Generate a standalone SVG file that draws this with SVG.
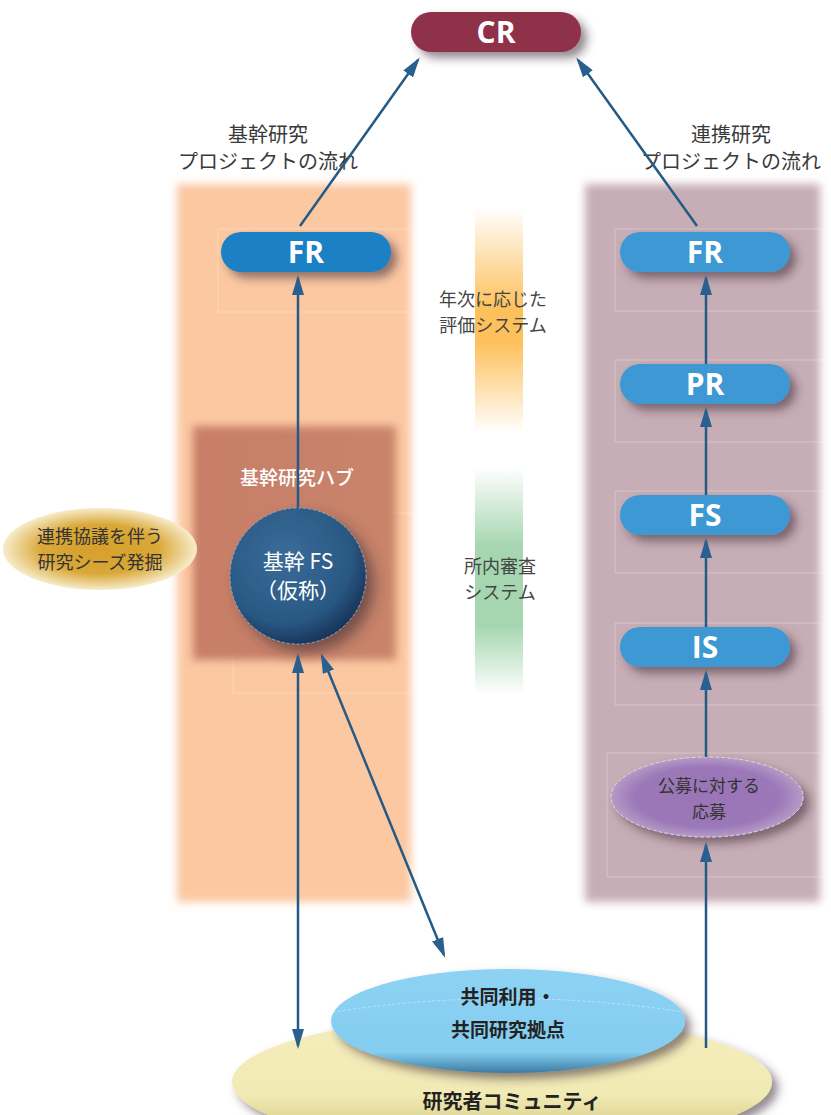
<svg xmlns="http://www.w3.org/2000/svg" width="831" height="1115" viewBox="0 0 831 1115">
<defs>
<style>
.jp{font-family:"Noto Sans CJK JP","Noto Sans",sans-serif}
.hd{font-size:20px;fill:#3a3a3a;text-anchor:middle}
.lab{font-family:"Open Sans","Noto Sans",sans-serif;font-weight:700;font-size:30px;fill:#fff;text-anchor:middle}
.mid{font-size:18px;fill:#444;text-anchor:middle}
.conn{stroke:#245a85;stroke-width:2.5;fill:none}
.frame{fill:none;stroke:#fff;stroke-opacity:0.3;stroke-width:1}
</style>
<filter id="blur" x="-10%" y="-10%" width="120%" height="120%"><feGaussianBlur stdDeviation="4"/></filter>
<filter id="sh" x="-20%" y="-30%" width="150%" height="190%"><feDropShadow dx="6" dy="6" stdDeviation="5" flood-color="#3a2a35" flood-opacity="0.55"/></filter>
<filter id="shc" x="-30%" y="-30%" width="170%" height="170%"><feDropShadow dx="8" dy="8" stdDeviation="7" flood-color="#3a2a35" flood-opacity="0.6"/></filter>
<linearGradient id="gOr" x1="0" y1="0" x2="0" y2="1"><stop offset="0" stop-color="#fdc15c" stop-opacity="0"/><stop offset="0.45" stop-color="#fdc15c"/><stop offset="0.6" stop-color="#fdc15c"/><stop offset="1" stop-color="#fdc15c" stop-opacity="0"/></linearGradient>
<linearGradient id="gGr" x1="0" y1="0" x2="0" y2="1"><stop offset="0" stop-color="#a6d6b0" stop-opacity="0"/><stop offset="0.35" stop-color="#a6d6b0"/><stop offset="0.7" stop-color="#a6d6b0"/><stop offset="1" stop-color="#a6d6b0" stop-opacity="0"/></linearGradient>
<radialGradient id="gBall" cx="0.4" cy="0.35" r="0.7"><stop offset="0" stop-color="#3a6c99"/><stop offset="0.7" stop-color="#2a5884"/><stop offset="1" stop-color="#162f52"/></radialGradient>
<radialGradient id="gOch" cx="0.5" cy="0.5" r="0.5"><stop offset="0" stop-color="#d6a02a"/><stop offset="0.6" stop-color="#d9a838"/><stop offset="1" stop-color="#f7ecca"/></radialGradient>
<radialGradient id="gPur" cx="0.5" cy="0.5" r="0.5"><stop offset="0" stop-color="#9a74b7"/><stop offset="0.75" stop-color="#9c78b8"/><stop offset="1" stop-color="#b59ac6"/></radialGradient>
<linearGradient id="gBlue" x1="0" y1="0" x2="0" y2="1"><stop offset="0" stop-color="#8dd2f3"/><stop offset="0.8" stop-color="#84cdf0"/><stop offset="1" stop-color="#3c7ba3"/></linearGradient>
<linearGradient id="gYel" x1="0" y1="0" x2="0" y2="1"><stop offset="0" stop-color="#f4eebd"/><stop offset="0.6" stop-color="#f2eab4"/><stop offset="1" stop-color="#c9bd72"/></linearGradient>
<linearGradient id="gHub" x1="0" y1="0" x2="1" y2="0"><stop offset="0" stop-color="#c87e68"/><stop offset="1" stop-color="#c9846b"/></linearGradient>
<marker id="ah" viewBox="0 0 20 12" refX="17" refY="6" markerWidth="20" markerHeight="12" markerUnits="userSpaceOnUse" orient="auto-start-reverse"><path d="M0,0 L20,6 L0,12 z" fill="#2a6090"/></marker>
</defs>
<rect width="831" height="1115" fill="#fff"/>

<g id="panel-left"><rect x="177" y="184" width="234" height="718" fill="#fbc8a2" filter="url(#blur)"/></g>
<g id="panel-right"><rect x="585" y="184" width="235" height="718" fill="#c7adb5" filter="url(#blur)"/></g>

<g id="bar-orange"><rect x="475" y="207" width="48" height="226" fill="url(#gOr)"/></g>
<g id="bar-green"><rect x="475" y="467" width="48" height="227" fill="url(#gGr)"/></g>

<g id="frames">
<rect class="frame" x="218" y="229" width="196" height="83"/>
<rect class="frame" x="233" y="513" width="181" height="180"/>
<rect class="frame" x="615" y="229" width="208" height="82"/>
<rect class="frame" x="615" y="360" width="208" height="82"/>
<rect class="frame" x="615" y="491" width="208" height="82"/>
<rect class="frame" x="615" y="623" width="208" height="82"/>
<rect class="frame" x="607" y="753" width="216" height="124"/>
</g>

<g id="hub"><rect x="193" y="426" width="203" height="234" fill="url(#gHub)" filter="url(#blur)"/>
<text class="jp" x="297" y="485" font-size="19" fill="#fff" text-anchor="middle" font-weight="500">基幹研究ハブ</text></g>

<g id="hdr-left" class="jp"><text class="hd" x="268" y="142">基幹研究</text><text class="hd" x="268" y="169">プロジェクトの流れ</text></g>
<g id="hdr-right" class="jp"><text class="hd" x="731" y="142">連携研究</text><text class="hd" x="731" y="169">プロジェクトの流れ</text></g>

<g id="txt-eval" class="jp"><text class="mid" x="493" y="306">年次に応じた</text><text class="mid" x="493" y="332">評価システム</text></g>
<g id="txt-review" class="jp"><text class="mid" x="500" y="573">所内審査</text><text class="mid" x="500" y="599">システム</text></g>

<g id="community">
<ellipse cx="502" cy="1082" rx="270" ry="66" fill="url(#gYel)" filter="url(#sh)"/>
<text class="jp" x="512" y="1109" font-size="20" font-weight="700" fill="#222" text-anchor="middle">研究者コミュニティ</text>
</g>
<g id="hub-base">
<ellipse cx="508" cy="1021" rx="177" ry="52" fill="url(#gBlue)" filter="url(#sh)"/>
<path d="M333,1012 Q508,985 683,1012" fill="none" stroke="#fff" stroke-opacity="0.4" stroke-dasharray="3,2" stroke-width="1"/>
<text class="jp" x="508" y="1004" font-size="19" font-weight="700" fill="#222" text-anchor="middle">共同利用・</text>
<text class="jp" x="508" y="1037" font-size="19" font-weight="700" fill="#222" text-anchor="middle">共同研究拠点</text>
</g>

<g id="seeds">
<ellipse cx="100" cy="549" rx="97" ry="41" fill="url(#gOch)"/>
<text class="jp" x="100" y="543" font-size="18" fill="#333" text-anchor="middle">連携協議を伴う</text>
<text class="jp" x="100" y="569" font-size="18" fill="#333" text-anchor="middle">研究シーズ発掘</text>
</g>

<g id="cr"><rect x="411" y="12" width="170" height="40" rx="20" fill="#8f3249" filter="url(#sh)"/><text class="lab" x="496" y="43">CR</text></g>
<g id="fr-left"><rect x="221" y="232" width="170" height="40" rx="20" fill="#1c80c4" filter="url(#sh)"/><text class="lab" x="306" y="263">FR</text></g>
<g id="fr-right"><rect x="620" y="232" width="170" height="40" rx="20" fill="#3e98d3" filter="url(#sh)"/><text class="lab" x="705" y="263">FR</text></g>
<g id="pr"><rect x="620" y="364" width="170" height="40" rx="20" fill="#3e98d3" filter="url(#sh)"/><text class="lab" x="705" y="395">PR</text></g>
<g id="fs"><rect x="620" y="495" width="170" height="40" rx="20" fill="#3e98d3" filter="url(#sh)"/><text class="lab" x="705" y="526">FS</text></g>
<g id="is"><rect x="620" y="627" width="170" height="40" rx="20" fill="#3e98d3" filter="url(#sh)"/><text class="lab" x="705" y="658">IS</text></g>

<g id="application">
<ellipse cx="707" cy="797" rx="96" ry="40" fill="url(#gPur)" stroke="#e8dcef" stroke-width="0.8" stroke-dasharray="4,2" filter="url(#sh)"/>
<text class="jp" x="709" y="792" font-size="17" fill="#333" text-anchor="middle">公募に対する</text>
<text class="jp" x="709" y="818" font-size="17" fill="#333" text-anchor="middle">応募</text>
</g>

<g id="kikan-fs">
<circle cx="298" cy="576" r="68" fill="url(#gBall)" stroke="#8fb0cc" stroke-width="0.8" stroke-dasharray="3,2" filter="url(#shc)"/>
<text class="jp" x="298" y="569" font-size="21" fill="#fff" text-anchor="middle">基幹 FS</text>
<text class="jp" x="298" y="598" font-size="21" fill="#fff" text-anchor="middle">（仮称）</text>
</g>

<g id="connectors">
<line class="conn" x1="300" y1="226" x2="418" y2="60" marker-end="url(#ah)"/>
<line class="conn" x1="697" y1="226" x2="578" y2="60" marker-end="url(#ah)"/>
<line class="conn" x1="298" y1="508" x2="298" y2="278" marker-end="url(#ah)"/>
<line class="conn" x1="298" y1="1046" x2="298" y2="656" marker-start="url(#ah)" marker-end="url(#ah)"/>
<line class="conn" x1="444" y1="955" x2="322" y2="656" marker-start="url(#ah)" marker-end="url(#ah)"/>
<line class="conn" x1="706" y1="364" x2="706" y2="278" marker-end="url(#ah)"/>
<line class="conn" x1="706" y1="495" x2="706" y2="410" marker-end="url(#ah)"/>
<line class="conn" x1="706" y1="627" x2="706" y2="541" marker-end="url(#ah)"/>
<line class="conn" x1="706" y1="757" x2="706" y2="673" marker-end="url(#ah)"/>
<line class="conn" x1="706" y1="1048" x2="706" y2="845" marker-end="url(#ah)"/>
</g>
</svg>
